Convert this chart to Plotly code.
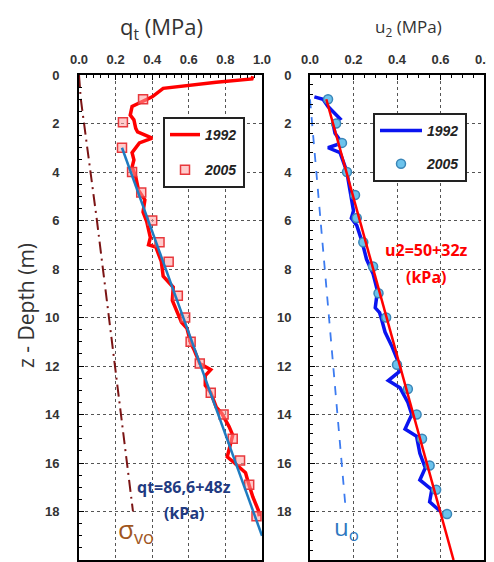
import plotly.graph_objects as go

# ---------------- data ----------------
# Left panel: cone resistance qt (MPa) vs depth (m)
qt1992_z = [0.05, 0.16, 0.3, 0.45, 0.55, 0.9, 1.1, 1.3, 1.65, 1.85, 2.2, 2.35, 2.6, 2.8, 3.2, 3.5, 3.8, 4.2,
            4.75, 5.15, 5.65, 6.05, 6.7, 7.0, 7.1, 7.7, 8.3, 8.55, 8.75, 9.3, 9.8, 10.2, 10.45, 11.05, 11.35,
            11.9, 12.15, 12.4, 12.8, 13.1, 13.7, 13.95, 14.5, 14.85, 15.3, 15.75, 16.0, 16.4, 16.8, 17.4,
            17.95, 18.2]
qt1992_v = [0.95, 0.945, 0.75, 0.59, 0.46, 0.40, 0.34, 0.29, 0.28, 0.30, 0.31, 0.32, 0.40, 0.33, 0.29, 0.30,
            0.29, 0.31, 0.325, 0.36, 0.35, 0.37, 0.39, 0.38, 0.42, 0.45, 0.46, 0.49, 0.515, 0.51, 0.535, 0.56,
            0.59, 0.61, 0.63, 0.66, 0.72, 0.69, 0.69, 0.72, 0.75, 0.78, 0.82, 0.84, 0.825, 0.81, 0.85, 0.91,
            0.925, 0.95, 0.98, 0.985]
qt2005_z = [1.0, 1.95, 3.0, 4.0, 4.85, 6.0, 6.9, 7.7, 9.1, 10.0, 11.0, 11.9, 13.1, 14.0, 15.0, 15.9, 16.9, 18.2]
qt2005_v = [0.35, 0.24, 0.235, 0.29, 0.34, 0.40, 0.44, 0.49, 0.54, 0.58, 0.61, 0.66, 0.72, 0.79, 0.84, 0.88,
            0.93, 0.97]
qtfit_z = [3.0, 19.0]
qtfit_v = [0.235, 1.0]
sigvo_z = [0.0, 1.0, 6.0, 12.0, 18.0]
sigvo_v = [0.0, 0.01, 0.098, 0.197, 0.295]

# Right panel: pore pressure u2 (MPa) vs depth (m)
u21992_z = [0.9, 1.0, 1.3, 1.8, 2.0, 2.4, 2.8, 3.0, 3.2, 4.0, 4.3, 5.0, 5.6, 5.9, 6.2, 6.9, 7.6, 8.2, 8.9,
            9.6, 9.8, 10.1, 10.6, 11.2, 11.7, 12.2, 12.6, 12.9, 13.5, 14.0, 14.6, 14.9, 15.6, 16.2, 16.7,
            17.1, 17.6, 18.0]
u21992_v = [0.02, 0.06, 0.083, 0.138, 0.106, 0.115, 0.147, 0.083, 0.138, 0.17, 0.175, 0.19, 0.2, 0.19, 0.215,
            0.24, 0.26, 0.29, 0.31, 0.30, 0.32, 0.33, 0.345, 0.377, 0.40, 0.415, 0.36, 0.414, 0.45, 0.468,
            0.437, 0.49, 0.505, 0.53, 0.505, 0.56, 0.55, 0.60]
u22005_z = [1.0, 2.0, 2.8, 4.0, 4.95, 5.9, 6.9, 7.9, 9.0, 10.0, 11.95, 12.95, 14.0, 15.0, 16.1, 17.1, 18.1]
u22005_v = [0.083, 0.12, 0.147, 0.17, 0.207, 0.215, 0.245, 0.29, 0.315, 0.35, 0.40, 0.45, 0.49, 0.515, 0.55,
            0.58, 0.63]
u2fit_z = [1.0, 20.0]
u2fit_v = [0.075, 0.66]
u0_z = [1.0, 18.0]
u0_v = [0.0, 0.165]

# page body has an 8px margin: the figure starts at (8, 8) in the window
OFF = 8
W, H = 494 - OFF, 562 - OFF
def px(x): return (x - OFF) / W
def py(y): return 1 - (y - OFF) / H

fig = go.Figure()

# left panel traces
fig.add_trace(go.Scatter(x=sigvo_v, y=sigvo_z, mode="lines", showlegend=False,
                         line=dict(color="#7B1414", width=2, dash="12px,5px,2px,5px"), xaxis="x", yaxis="y"))
fig.add_trace(go.Scatter(x=qt1992_v, y=qt1992_z, mode="lines", name="1992", legend="legend",
                         legendgroup="a", line=dict(color="#FF0000", width=3.5), xaxis="x", yaxis="y"))
fig.add_trace(go.Scatter(x=qt2005_v, y=qt2005_z, mode="markers", name="2005", legend="legend",
                         legendgroup="b",
                         marker=dict(symbol="square", size=9, color="rgba(255,160,160,0.55)",
                                     line=dict(color="#E8383C", width=1.5)), xaxis="x", yaxis="y"))
fig.add_trace(go.Scatter(x=qtfit_v, y=qtfit_z, mode="lines", showlegend=False,
                         line=dict(color="#1F7BC0", width=2.5), xaxis="x", yaxis="y"))

# right panel traces
fig.add_trace(go.Scatter(x=u0_v, y=u0_z, mode="lines", showlegend=False,
                         line=dict(color="#3C7BF0", width=1.8, dash="dash"), xaxis="x2", yaxis="y2"))
fig.add_trace(go.Scatter(x=u21992_v, y=u21992_z, mode="lines", name="1992", legend="legend2",
                         legendgroup="c", line=dict(color="#0A14F0", width=3.5), xaxis="x2", yaxis="y2"))
fig.add_trace(go.Scatter(x=u22005_v, y=u22005_z, mode="markers", name="2005", legend="legend2",
                         legendgroup="d",
                         marker=dict(symbol="circle", size=9, color="#6CC3EC",
                                     line=dict(color="#3A86B8", width=1.5)), xaxis="x2", yaxis="y2"))
fig.add_trace(go.Scatter(x=u2fit_v, y=u2fit_z, mode="lines", showlegend=False,
                         line=dict(color="#FF0000", width=2.5), xaxis="x2", yaxis="y2"))

tickfont = dict(family="Arial, Liberation Sans", size=13, color="#333333", weight="bold")
grid = dict(showgrid=True, gridcolor="#555555", gridwidth=1.3, griddash="dot", zeroline=False,
            showline=True, linecolor="black", linewidth=2, mirror=True, tickfont=tickfont,
            automargin=False)

ydom = [py(560), py(75)]
legfont = dict(family="Arial, Liberation Sans", size=14, color="#222222", weight="bold", style="italic")
fig.update_layout(
    template="none",
    width=W, height=H, autosize=False, margin=dict(l=0, r=0, t=0, b=0, pad=0),
    paper_bgcolor="white", plot_bgcolor="white",
    xaxis=dict(domain=[px(79), px(262)], range=[0, 1.0], side="top", anchor="y",
               tickvals=[0, 0.2, 0.4, 0.6, 0.8, 1.0], ticktext=["0.0", "0.2", "0.4", "0.6", "0.8", "1.0"],
               ticks="inside", ticklen=5, tickcolor="black", ticklabelstandoff=4,
               minor=dict(dtick=0.04, ticks="inside", ticklen=3, tickcolor="black", showgrid=False), **grid),
    yaxis=dict(domain=ydom, range=[20, 0], anchor="x", tickvals=list(range(0, 21, 2)),
               ticks="inside", ticklen=5, tickcolor="black", ticklabelstandoff=15,
               minor=dict(dtick=0.5, ticks="inside", ticklen=3, tickcolor="black", showgrid=False), **grid),
    xaxis2=dict(domain=[px(310), px(484)], range=[0, 0.8], side="top", anchor="y2",
                tickvals=[0, 0.2, 0.4, 0.6, 0.8], ticktext=["0.0", "0.2", "0.4", "0.6", "0.8"],
                ticks="inside", ticklen=5, tickcolor="black", ticklabelstandoff=4,
                minor=dict(dtick=0.05, ticks="inside", ticklen=3, tickcolor="black", showgrid=False), **grid),
    yaxis2=dict(domain=ydom, range=[20, 0], anchor="x2", tickvals=list(range(0, 21, 2)),
                ticks="inside", ticklen=5, tickcolor="black", ticklabelstandoff=14,
                minor=dict(dtick=0.4, ticks="inside", ticklen=3, tickcolor="black", showgrid=False), **grid),
    legend=dict(x=px(163), y=py(117), xanchor="left", yanchor="top", bgcolor="white",
                bordercolor="#222222", borderwidth=2, tracegroupgap=14, font=legfont),
    legend2=dict(x=px(373), y=py(113), xanchor="left", yanchor="top", bgcolor="white",
                 bordercolor="#222222", borderwidth=2, tracegroupgap=12, font=legfont,
                 itemwidth=42),
    showlegend=True,
)

ann = [
    dict(text="q<sub>t</sub> (MPa)", x=px(161), y=py(28), font=dict(family="Open Sans", size=22, color="#333333")),
    dict(text="u<sub>2</sub> (MPa)", x=px(408), y=py(28), font=dict(family="Open Sans", size=17, color="#333333")),
    dict(text="z - Depth (m)", x=px(26), y=py(306), textangle=-90,
         font=dict(family="Open Sans", size=21, color="#333333")),
    dict(text="qt=86,6+48z", x=px(184), y=py(487), font=dict(family="Open Sans", size=16, color="#1F3B82", weight="bold")),
    dict(text="(kPa)", x=px(184), y=py(513), font=dict(family="Open Sans", size=16, color="#1F3B82", weight="bold")),
    dict(text="u2=50+32z", x=px(426), y=py(250), font=dict(family="Open Sans", size=16, color="#FF0000", weight="bold")),
    dict(text="(kPa)", x=px(426), y=py(277), font=dict(family="Open Sans", size=16, color="#FF0000", weight="bold")),
    dict(text="σ<sub>vo</sub>", x=px(116), y=py(530), xanchor="left",
         font=dict(family="Open Sans", size=26, color="#A0561E")),
    dict(text="u<sub>o</sub>", x=px(332), y=py(528), xanchor="left",
         font=dict(family="Open Sans", size=24, color="#2E78C0")),
]
for a in ann:
    a.setdefault("xanchor", "center")
    fig.add_annotation(xref="paper", yref="paper", showarrow=False, yanchor="middle", **a)

fig.write_html("out.html")
